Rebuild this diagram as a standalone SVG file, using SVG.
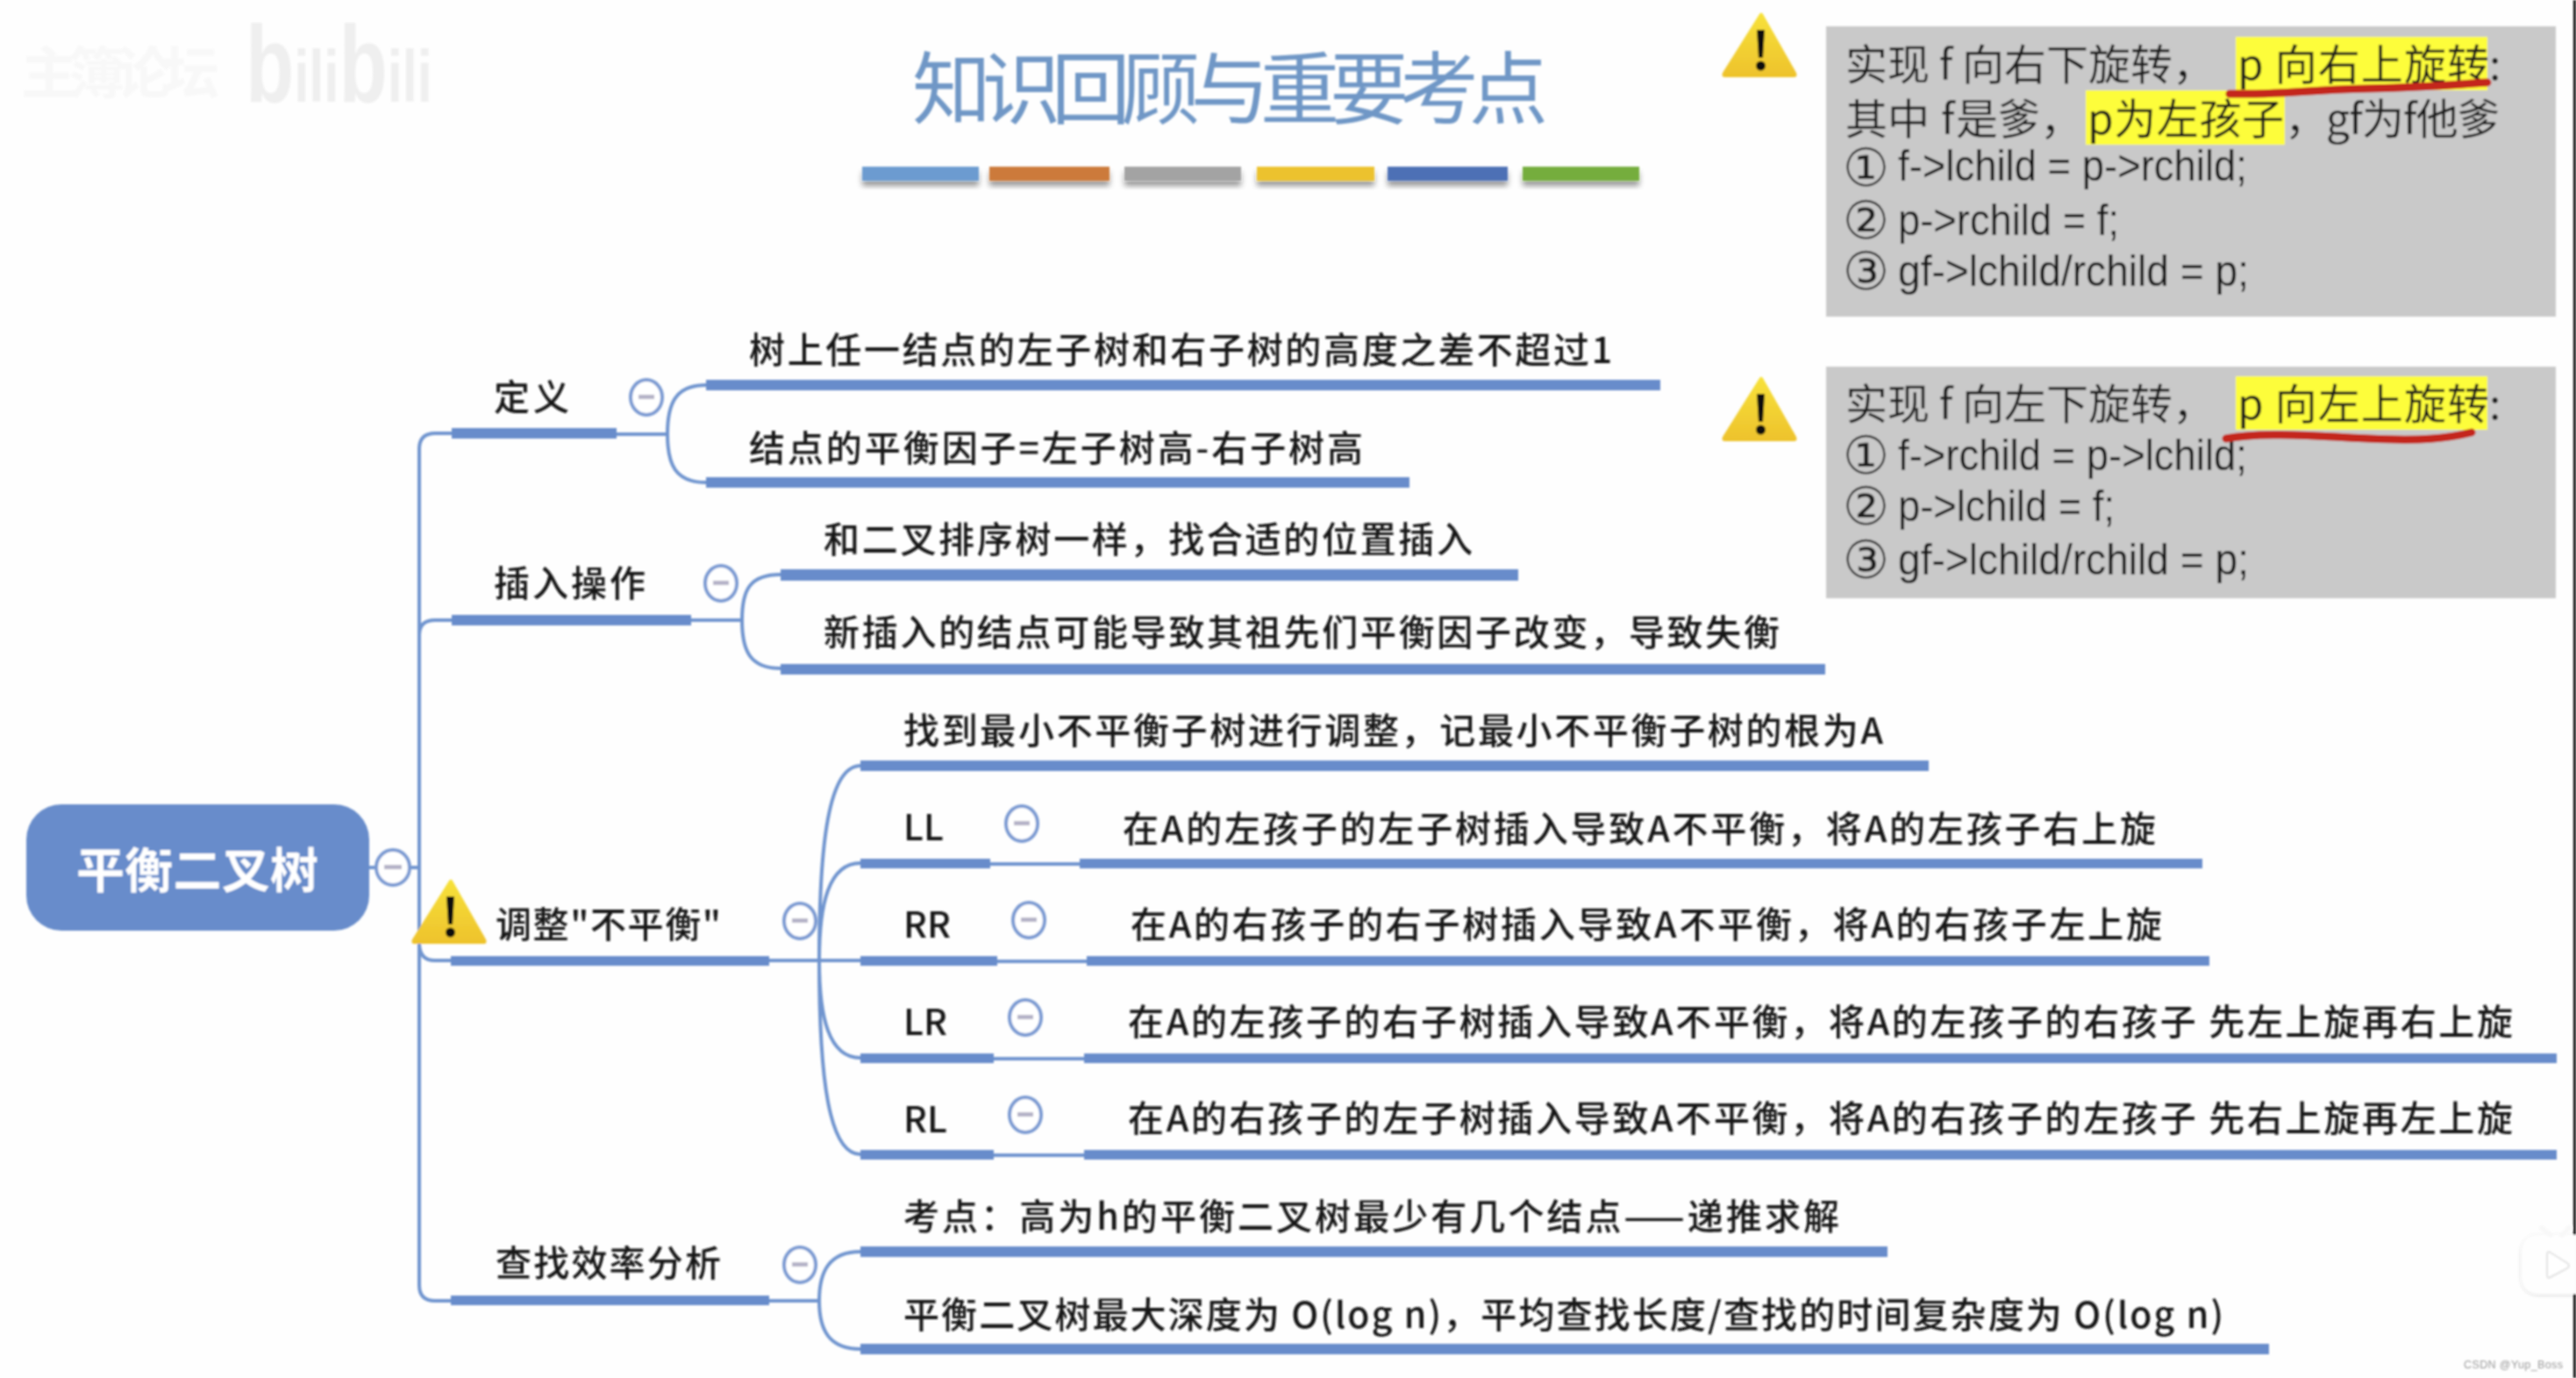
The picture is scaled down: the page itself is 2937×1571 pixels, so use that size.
<svg xmlns="http://www.w3.org/2000/svg" width="2937" height="1571" viewBox="0 0 2937 1571">
<style>
text{font-family:"Noto Sans CJK SC","Noto Sans",sans-serif;fill:#141414}
.b{font-size:41px;font-weight:500}
.c{font-size:48px;font-weight:400;fill:#1c1c1c}
.n{font-family:"DejaVu Sans",sans-serif;font-size:60px;fill:#1c1c1c}
.l{font-family:"Liberation Sans",sans-serif;font-size:50px;fill:#141414}
.t{fill:none;stroke:#6f94cf;stroke-width:4}
.u{fill:#678ccb}
.tg{fill:#fff;stroke:#7a9ad2;stroke-width:4}
.d{fill:#b5b3c8}
.hl{fill:#fdfd3a}
.box{fill:#c9c9c9}
.red{fill:none;stroke:#c4281c;stroke-width:9;stroke-linecap:round}
</style>
<defs>
<filter id="bl" filterUnits="userSpaceOnUse" x="0" y="0" width="2937" height="1571"><feGaussianBlur stdDeviation="0.8"/></filter>
<filter id="sh" x="-5%" y="-30%" width="110%" height="190%"><feDropShadow dx="0" dy="6" stdDeviation="3" flood-color="#000" flood-opacity=".4"/></filter>
<filter id="soft" x="-10%" y="-10%" width="120%" height="120%"><feDropShadow dx="0" dy="1" stdDeviation="2" flood-color="#000" flood-opacity=".22"/></filter>
<linearGradient id="y" x1="0" y1="0" x2="0" y2="1"><stop offset="0" stop-color="#f7e23a"/><stop offset="1" stop-color="#eec22c"/></linearGradient>
<g id="warn">
<path d="M43 3 Q45 0 47 3 L85 70 Q87 75 82 75 L4 75 Q-1 75 1 70 Z" fill="url(#y)"/>
<path d="M40 21 H49 L47 53 H42 Z" fill="#111"/>
<circle cx="44.500" cy="62" r="5.500" fill="#111"/>
</g>
</defs>
<rect width="2937" height="1571" fill="#fefefe"/>
<g filter="url(#bl)">
<rect x="2934" y="0" width="3" height="1571" fill="#111"/>

<g id="watermark">
<text x="24" y="106" font-size="64" style="fill:#f8f8f8;font-weight:700" textLength="226">主簿论坛</text>
<text transform="translate(280 116) scale(.73 1)" style="fill:#efefef;font-family:'Liberation Sans',sans-serif;font-weight:700" font-size="84"><tspan font-size="124">b</tspan><tspan>ili</tspan><tspan font-size="124">b</tspan><tspan>ili</tspan></text>
</g>

<g id="title">
<text x="1040" y="134" font-size="90" style="fill:#6f97c6" textLength="725">知识回顾与重要考点</text>
</g>
<g id="title-bars" filter="url(#sh)">
<rect x="983" y="190" width="133" height="16" fill="#6c9bd0"/>
<rect x="1128" y="190" width="137" height="16" fill="#cc7a3b"/>
<rect x="1282" y="190" width="133" height="16" fill="#a3a3a3"/>
<rect x="1433" y="190" width="134" height="16" fill="#ecc22f"/>
<rect x="1582" y="190" width="137" height="16" fill="#4d6fb5"/>
<rect x="1736" y="190" width="133" height="16" fill="#74ad3e"/>
</g>

<g id="connectors">
<path class="t" d="M421 989H478"/>
<path class="t" d="M515 494H496Q478 494 478 512V1465Q478 1483 496 1483H515"/>
<path class="t" d="M478 724Q478 707 496 707H515"/>
<path class="t" d="M478 1075Q478 1095 496 1095H515"/>
<path class="t" d="M703 495H761"/>
<path class="t" d="M761 495C761 460 770 439 805 439M761 495C761 530 770 550 805 550"/>
<path class="t" d="M788 707H846"/>
<path class="t" d="M846 707C846 672 855 655 890 655M846 707C846 742 855 762 890 762"/>
<path class="t" d="M877 1095H981"/>
<path class="t" d="M934 1095C934 960 945 873 981 873M934 1095C934 1030 945 984 981 984M934 1095C934 1160 945 1206 981 1206M934 1095C934 1230 945 1316 981 1316"/>
<path class="t" d="M877 1483H934"/>
<path class="t" d="M934 1483C934 1450 945 1427 981 1427M934 1483C934 1516 945 1538 981 1538"/>
<path class="t" d="M1129 985H1231M1137 1096H1239M1133 1207H1236M1133 1317H1236"/>
</g>

<g id="root">
<rect x="30" y="917" width="391" height="144" rx="40" fill="#678ccb"/>
<text x="87" y="1012" font-size="55" style="fill:#fff;font-weight:700" textLength="276">平衡二叉树</text>
<ellipse class="tg" cx="448" cy="989" rx="19" ry="20"/><rect class="d" x="438" y="986" width="20" height="5"/>
</g>

<g id="n-def">
<text class="b" x="563" y="468" textLength="86">定义</text>
<rect class="u" x="515" y="488" width="188" height="12"/>
<ellipse class="tg" cx="737" cy="453" rx="18" ry="20"/><rect class="d" x="728" y="450" width="18" height="5"/>
</g>
<g id="n-def-1">
<text class="b" x="854" y="414" textLength="984">树上任一结点的左子树和右子树的高度之差不超过1</text>
<rect class="u" x="805" y="433" width="1088" height="12"/>
</g>
<g id="n-def-2">
<text class="b" x="854" y="526" textLength="700">结点的平衡因子=左子树高-右子树高</text>
<rect class="u" x="805" y="544" width="802" height="12"/>
</g>

<g id="n-ins">
<text class="b" x="563" y="680" textLength="173">插入操作</text>
<rect class="u" x="515" y="701" width="273" height="12"/>
<ellipse class="tg" cx="822" cy="665" rx="18" ry="20"/><rect class="d" x="813" y="662" width="18" height="5"/>
</g>
<g id="n-ins-1">
<text class="b" x="939" y="630" textLength="740">和二叉排序树一样，找合适的位置插入</text>
<rect class="u" x="890" y="649" width="841" height="13"/>
</g>
<g id="n-ins-2">
<text class="b" x="939" y="736" textLength="1090">新插入的结点可能导致其祖先们平衡因子改变，导致失衡</text>
<rect class="u" x="890" y="757" width="1191" height="12"/>
</g>

<g id="n-adj">
<text class="b" x="565" y="1069" textLength="257">调整"不平衡"</text>
<rect class="u" x="514" y="1090" width="363" height="11"/>
<ellipse class="tg" cx="912" cy="1050" rx="18" ry="20"/><rect class="d" x="903" y="1047" width="18" height="5"/>
<use href="#warn" transform="translate(469 1001)"/>
</g>
<g id="n-adj-1">
<text class="b" x="1030" y="848" textLength="1117">找到最小不平衡子树进行调整，记最小不平衡子树的根为A</text>
<rect class="u" x="981" y="867" width="1218" height="12"/>
</g>
<g id="n-ll">
<text class="b" x="1030" y="958" textLength="46">LL</text>
<rect class="u" x="981" y="979" width="148" height="11"/>
<ellipse class="tg" cx="1165" cy="939" rx="18" ry="20"/><rect class="d" x="1156" y="936" width="18" height="5"/>
<text class="b" x="1280" y="960" textLength="1178">在A的左孩子的左子树插入导致A不平衡，将A的左孩子右上旋</text>
<rect class="u" x="1231" y="979" width="1280" height="11"/>
</g>
<g id="n-rr">
<text class="b" x="1030" y="1069" textLength="54">RR</text>
<rect class="u" x="981" y="1090" width="156" height="11"/>
<ellipse class="tg" cx="1173" cy="1049" rx="18" ry="20"/><rect class="d" x="1164" y="1046" width="18" height="5"/>
<text class="b" x="1289" y="1069" textLength="1176">在A的右孩子的右子树插入导致A不平衡，将A的右孩子左上旋</text>
<rect class="u" x="1239" y="1090" width="1280" height="11"/>
</g>
<g id="n-lr">
<text class="b" x="1030" y="1180" textLength="50">LR</text>
<rect class="u" x="981" y="1201" width="152" height="11"/>
<ellipse class="tg" cx="1169" cy="1160" rx="18" ry="20"/><rect class="d" x="1160" y="1157" width="18" height="5"/>
<text class="b" x="1286" y="1180" textLength="1579">在A的左孩子的右子树插入导致A不平衡，将A的左孩子的右孩子 先左上旋再右上旋</text>
<rect class="u" x="1236" y="1201" width="1679" height="11"/>
</g>
<g id="n-rl">
<text class="b" x="1030" y="1291" textLength="50">RL</text>
<rect class="u" x="981" y="1311" width="152" height="11"/>
<ellipse class="tg" cx="1169" cy="1271" rx="18" ry="20"/><rect class="d" x="1160" y="1268" width="18" height="5"/>
<text class="b" x="1286" y="1290" textLength="1579">在A的右孩子的左子树插入导致A不平衡，将A的右孩子的左孩子 先右上旋再左上旋</text>
<rect class="u" x="1236" y="1311" width="1679" height="11"/>
</g>

<g id="n-search">
<text class="b" x="565" y="1455" textLength="257">查找效率分析</text>
<rect class="u" x="514" y="1477" width="363" height="11"/>
<ellipse class="tg" cx="912" cy="1442" rx="18" ry="20"/><rect class="d" x="903" y="1439" width="18" height="5"/>
</g>
<g id="n-search-1">
<text class="b" x="1030" y="1402" textLength="1067">考点：高为h的平衡二叉树最少有几个结点——递推求解</text>
<rect class="u" x="981" y="1421" width="1171" height="12"/>
</g>
<g id="n-search-2">
<text class="b" x="1030" y="1514" textLength="1505">平衡二叉树最大深度为 O(log n)，平均查找长度/查找的时间复杂度为 O(log n)</text>
<rect class="u" x="981" y="1532" width="1606" height="12"/>
</g>

<g id="note-1">
<use href="#warn" transform="translate(1963 13)"/>
<rect class="box" x="2082" y="30" width="832" height="331"/>
<rect class="hl" x="2549" y="42" width="287" height="61"/>
<rect class="hl" x="2378" y="103" width="227" height="62"/>
<text class="c" x="2104" y="91">实现 f 向右下旋转，</text>
<text class="c" x="2551" y="91" textLength="287">p 向右上旋转</text>
<text class="c" x="2838" y="91">:</text>
<text class="c" y="153"><tspan x="2104">其中</tspan><tspan x="2213">f</tspan><tspan x="2230">是爹，</tspan></text>
<text class="c" x="2380" y="153" textLength="224">p为左孩子</text>
<text class="c" x="2605" y="153">，</text>
<text class="c" x="2652" y="153" textLength="198">gf为f他爹</text>
<text class="n" x="2101" y="212" textLength="53" lengthAdjust="spacingAndGlyphs">①</text>
<text class="l" x="2164" y="206" textLength="398" lengthAdjust="spacingAndGlyphs">f-&gt;lchild = p-&gt;rchild;</text>
<text class="n" x="2101" y="272" textLength="53" lengthAdjust="spacingAndGlyphs">②</text>
<text class="l" x="2164" y="268" textLength="252" lengthAdjust="spacingAndGlyphs">p-&gt;rchild = f;</text>
<text class="n" x="2101" y="330" textLength="53" lengthAdjust="spacingAndGlyphs">③</text>
<text class="l" x="2164" y="326" textLength="400" lengthAdjust="spacingAndGlyphs">gf-&gt;lchild/rchild = p;</text>
<path class="red" d="M2542 107C2600 108 2620 103 2700 101S2800 96 2836 94"/>
</g>

<g id="note-2">
<use href="#warn" transform="translate(1963 428)"/>
<rect class="box" x="2082" y="418" width="832" height="264"/>
<rect class="hl" x="2549" y="429" width="287" height="61"/>
<text class="c" x="2104" y="478">实现 f 向左下旋转，</text>
<text class="c" x="2551" y="478" textLength="287">p 向左上旋转</text>
<text class="c" x="2838" y="478">:</text>
<text class="n" x="2101" y="540" textLength="53" lengthAdjust="spacingAndGlyphs">①</text>
<text class="l" x="2164" y="536" textLength="398" lengthAdjust="spacingAndGlyphs">f-&gt;rchild = p-&gt;lchild;</text>
<text class="n" x="2101" y="598" textLength="53" lengthAdjust="spacingAndGlyphs">②</text>
<text class="l" x="2164" y="594" textLength="247" lengthAdjust="spacingAndGlyphs">p-&gt;lchild = f;</text>
<text class="n" x="2101" y="659" textLength="53" lengthAdjust="spacingAndGlyphs">③</text>
<text class="l" x="2164" y="655" textLength="400" lengthAdjust="spacingAndGlyphs">gf-&gt;lchild/rchild = p;</text>
<path class="red" d="M2538 500C2580 492 2640 497 2700 500S2790 500 2818 493"/>
</g>

<g id="overlay">
<g filter="url(#soft)">
<path d="M2937 1408H2896Q2875 1408 2875 1429V1454Q2875 1475 2896 1475H2937Z" fill="#fefefe"/>
</g>
<path d="M2898 1400L2908 1408M2929 1400L2921 1408" stroke="#f8f8f8" stroke-width="6" stroke-linecap="round"/>
<path d="M2904 1430Q2904 1426 2908 1428L2927 1440Q2931 1443 2927 1446L2908 1456Q2904 1458 2904 1454Z" fill="#fff" stroke="#e2e2e2" stroke-width="2"/>
<text x="2809" y="1560" font-size="12.500" style="font-family:'Liberation Sans',sans-serif;fill:#9a9a9a" textLength="113">CSDN @Yup_Boss</text>
</g>
</g>
</svg>
